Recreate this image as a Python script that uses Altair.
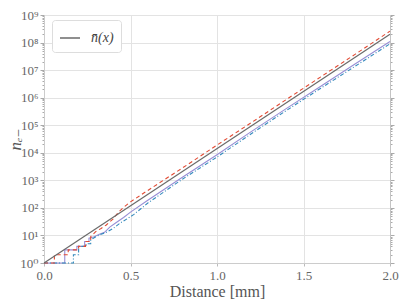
import altair as alt
import pandas as pd

# mean curve n̄(x)
gray_x = [0.0, 2.0]
gray_n = [1.0, 2.0e8]

# stochastic realisations
red_x = [0.0, 0.06, 0.06, 0.14, 0.14, 0.20, 0.20, 0.24, 0.24, 0.27, 0.27, 0.30, 0.33, 0.36,
         0.40, 0.43, 0.46, 0.50, 0.60, 0.80, 1.00, 1.20, 1.40, 1.60, 1.80, 2.00]
red_n = [1, 1, 2, 2, 3, 3, 4, 4, 6, 6, 9, 14, 18, 24,
         40, 70, 105, 165, 430, 2.8e3, 1.9e4, 1.26e5, 8.5e5, 5.7e6, 3.8e7, 2.6e8]

purple_x = [0.0, 0.12, 0.12, 0.19, 0.19, 0.235, 0.235, 0.26, 0.26, 0.29, 0.32, 0.35, 0.38,
            0.42, 0.46, 0.50, 0.60, 0.80, 1.00, 1.20, 1.40, 1.60, 1.80, 2.00]
purple_n = [1, 1, 3, 3, 4, 4, 6, 6, 8, 9, 11, 13, 20,
            30, 45, 70, 190, 1.3e3, 8.5e3, 6.0e4, 4.0e5, 2.6e6, 1.7e7, 1.1e8]

blue_x = [0.0, 0.17, 0.17, 0.20, 0.20, 0.245, 0.245, 0.27, 0.27, 0.30, 0.33, 0.36, 0.40,
          0.44, 0.48, 0.52, 0.60, 0.80, 1.00, 1.20, 1.40, 1.60, 1.80, 2.00]
blue_n = [1, 1, 2, 2, 4, 4, 5, 5, 7, 9, 11, 13, 18,
          28, 40, 58, 150, 1.1e3, 7.0e3, 5.0e4, 3.4e5, 2.2e6, 1.4e7, 9.0e7]

x_ticks = [0.0, 0.5, 1.0, 1.5, 2.0]
y_ticks = [m * 10 ** k for k in range(9) for m in range(1, 10)] + [1e9]
sup_labels = ["10⁰", "10¹", "10²", "10³", "10⁴", "10⁵", "10⁶", "10⁷", "10⁸", "10⁹"]
legend_label = "n\u0304(x)"


def frame(xs, ns, name):
    return pd.DataFrame({"x": xs, "n": ns, "order": list(range(len(xs))), "series": name})


FONT = "Liberation Serif, Times New Roman, DejaVu Serif, serif"
is_decade = "abs(log(datum.value)/LN10 - round(log(datum.value)/LN10)) < 0.001"
label_expr = is_decade + " ? [" + ",".join("'%s'" % s for s in sup_labels) + "][round(log(datum.value)/LN10)] : ''"

xscale = alt.Scale(domain=[0, 2], nice=False, zero=False)
yscale = alt.Scale(type="log", domain=[1, 1e9], nice=False)

x_enc = alt.X("x:Q", scale=xscale, axis=alt.Axis(
    values=x_ticks, format=".1f", title="Distance [mm]", grid=True, labelFlush=False,
    gridColor="#e3e3e3", domainColor="#cccccc", tickColor="#bbbbbb", tickSize=3,
    labelFont=FONT, labelFontSize=13, labelColor="#666666", labelPadding=3,
    titleFont=FONT, titleFontSize=16, titleFontWeight="normal", titleColor="#555555",
    titlePadding=1))

y_axis = alt.Axis(
    values=y_ticks, labelExpr=label_expr, labelOverlap=False, title="nₑ₋",
    grid=True, gridColor="#e3e3e3",
    gridOpacity={"condition": {"test": is_decade, "value": 1}, "value": 0},
    tickSize={"condition": {"test": is_decade, "value": 4}, "value": 2},
    tickColor="#aaaaaa", domainColor="#cccccc",
    labelFont=FONT, labelFontSize=13, labelColor="#666666", labelPadding=2,
    titleFont=FONT, titleFontSize=17, titleFontStyle="italic", titleFontWeight="normal",
    titleColor="#555555", titleX=-29, titleBaseline="middle")

y_main = alt.Y("n:Q", scale=yscale, axis=y_axis)
y_plain = alt.Y("n:Q", scale=yscale, axis=None)

gray = alt.Chart(frame(gray_x, gray_n, legend_label)).mark_line(strokeWidth=1.2).encode(
    x=x_enc, y=y_main, order="order:Q",
    color=alt.Color("series:N", scale=alt.Scale(domain=[legend_label], range=["#6a6a6a"]),
                    legend=alt.Legend(title=None, orient="none", legendX=8, legendY=5,
                                      symbolType="stroke", symbolSize=400, symbolStrokeWidth=1.5,
                                      labelFont=FONT, labelFontSize=14, labelFontStyle="italic",
                                      labelColor="#444444", labelOffset=10,
                                      fillColor="white", strokeColor="#dddddd",
                                      cornerRadius=3, padding=7)))

red = alt.Chart(frame(red_x, red_n, "r")).mark_line(
    color="#E24A33", strokeWidth=1.1, strokeDash=[4, 3]).encode(x=x_enc, y=y_plain, order="order:Q")

purple = alt.Chart(frame(purple_x, purple_n, "p")).mark_line(
    color="#988ED5", strokeWidth=1.1).encode(x=x_enc, y=y_plain, order="order:Q")

blue = alt.Chart(frame(blue_x, blue_n, "b")).mark_line(
    color="#348ABD", strokeWidth=1.1, strokeDash=[4, 2, 1, 2]).encode(x=x_enc, y=y_plain, order="order:Q")

right = alt.Chart(frame(gray_x, gray_n, "ax")).mark_line(opacity=0).encode(
    x=x_enc,
    y=alt.Y("n:Q", scale=yscale, axis=alt.Axis(
        orient="right", values=y_ticks, labels=False, title=None, grid=False,
        tickSize={"condition": {"test": is_decade, "value": 4}, "value": 2},
        tickColor="#aaaaaa", domainColor="#c4c4c4")))

chart = alt.layer(purple, blue, red, gray, right).resolve_axis(y="independent").properties(
    width=346, height=248,
    autosize=alt.AutoSizeParams(type="none"),
    padding={"left": 36, "top": 7, "right": 9, "bottom": 40},
).configure_view(stroke=None)

chart.save("out.html", embed_options={"renderer": "svg", "actions": False})
